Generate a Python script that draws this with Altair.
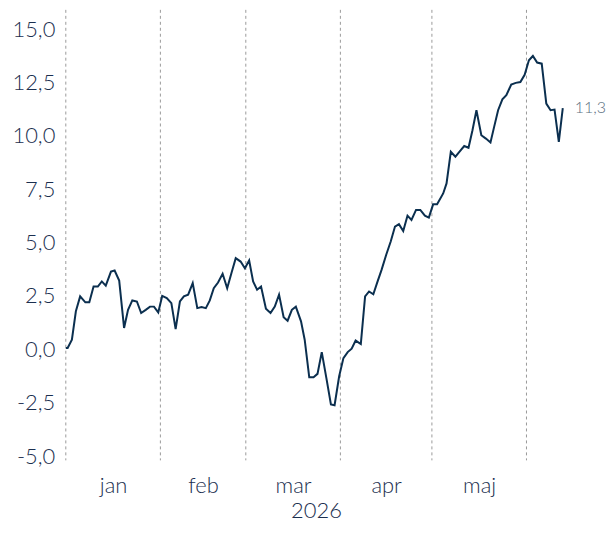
import altair as alt
import pandas as pd

# days since 1 Jan 2026 and index values
day = [0.0, 0.6, 2.0, 3.3, 4.7, 6.4, 7.7, 9.1, 10.5, 11.8, 13.1, 14.8, 16.0, 17.5, 19.1, 20.4, 21.8, 23.3, 24.7, 26.2, 27.6, 28.9, 30.3, 31.6,
       33.1, 34.6, 36.0, 37.4, 38.7, 40.1, 41.6, 43.1, 44.5, 45.9, 47.2, 48.5, 49.9, 51.4, 52.9, 54.3, 55.7, 57.3, 58.7, 60.1, 61.4,
       62.7, 64.0, 65.6, 67.1, 68.5, 69.9, 71.4, 72.7, 74.1, 75.4, 77.1, 78.3, 79.8, 81.2, 82.5, 83.9, 85.4, 86.9, 88.1, 89.6, 91.0, 92.4,
       93.7, 95.0, 96.7, 98.1, 99.4, 100.8, 102.2, 103.5, 105.0, 106.5, 107.9, 109.2, 110.6, 112.0, 113.3, 114.8, 116.2, 117.7, 119.0, 120.4, 121.7,
       123.7, 124.8, 126.2, 127.7, 129.2, 130.6, 132.0, 133.3, 134.6, 136.2, 137.7, 139.2, 140.4, 141.7, 143.1, 144.4, 146.0, 147.5, 149.0,
       150.4, 151.8, 153.1, 154.5, 156.0, 157.5, 158.9, 160.2, 161.6, 162.9]
value = [0.06, 0.06, 0.45, 1.78, 2.48, 2.2, 2.2, 2.94, 2.94, 3.18, 2.98, 3.64, 3.69, 3.22, 1.0, 1.85, 2.29, 2.24, 1.7, 1.85, 2.0, 2.0, 1.73, 2.5,
         2.4, 2.16, 0.95, 2.24, 2.48, 2.56, 3.1, 1.93, 1.98, 1.93, 2.29, 2.86, 3.13, 3.54, 2.86, 3.57, 4.27, 4.11, 3.8, 4.16, 3.18,
         2.79, 2.94, 1.9, 1.7, 2.0, 2.56, 1.5, 1.34, 1.85, 2.0, 1.31, 0.45, -1.31, -1.31, -1.15, -0.13, -1.34, -2.58, -2.62, -1.26, -0.41, -0.13,
         0.03, 0.41, 0.25, 2.48, 2.71, 2.58, 3.18, 3.72, 4.42, 5.05, 5.75, 5.86, 5.54, 6.26, 6.06, 6.53, 6.53, 6.26, 6.17, 6.79, 6.79,
         7.3, 7.77, 9.25, 9.02, 9.28, 9.52, 9.44, 10.26, 11.2, 10.03, 9.87, 9.69, 10.42, 11.2, 11.71, 11.9, 12.4, 12.48, 12.52,
         12.86, 13.54, 13.74, 13.43, 13.38, 11.51, 11.2, 11.23, 9.72, 11.3]

month_starts = ["2026-01-01", "2026-02-01", "2026-03-01", "2026-04-01", "2026-05-01", "2026-06-01"]
month_mids = ["2026-01-16T12:00:00", "2026-02-15T00:00:00", "2026-03-16T12:00:00",
              "2026-04-16T00:00:00", "2026-05-16T12:00:00"]
month_names = ["jan", "feb", "mar", "apr", "maj", "jun", "jul", "aug", "sep", "okt", "nov", "dec"]
y_ticks = [-5, -2.5, 0, 2.5, 5, 7.5, 10, 12.5, 15]
x_domain = ["2026-01-01T00:00:00", "2026-06-14T00:00:00"]
y_domain = [-5.2, 15.9]
year_title = "2026"
end_label = "11,3"

start = pd.Timestamp("2026-01-01")
df = pd.DataFrame({"date": start + pd.to_timedelta(day, unit="D"), "value": value})
df["date"] = df["date"].dt.strftime("%Y-%m-%dT%H:%M:%S")
rules_df = pd.DataFrame({"date": month_starts})
last_df = df.tail(1).assign(label=end_label)

FONT = "Lato"
TEXT = "#1b2f4f"
names_js = "[" + ",".join(f"'{m}'" for m in month_names) + "]"

x_enc = alt.X(
    "date:T",
    scale=alt.Scale(domain=x_domain, nice=False),
    axis=alt.Axis(
        values=month_mids,
        labelExpr=f"{names_js}[month(datum.value)]",
        ticks=False, domain=False, grid=False,
        labelFontSize=22, labelFontWeight=300, labelPadding=15, labelColor=TEXT, labelFont=FONT,
        title=year_title, titleFontSize=22, titleFontWeight=300, titleColor=TEXT,
        titleFont=FONT, titlePadding=4,
    ),
)
y_enc = alt.Y(
    "value:Q",
    scale=alt.Scale(domain=y_domain, nice=False, zero=False),
    axis=alt.Axis(
        values=y_ticks,
        labelExpr="(datum.value < 0 ? '-' : '') + replace(format(abs(datum.value), '.1f'), '.', ',')",
        ticks=False, domain=False, grid=False,
        labelFontSize=22, labelFontWeight=300, labelPadding=11, labelColor=TEXT, labelFont=FONT, title=None,
    ),
)

rules = alt.Chart(rules_df).mark_rule(strokeDash=[3, 3], color="#9a9a9a", strokeWidth=1).encode(x=x_enc)
line = alt.Chart(df).mark_line(color="#0b2f4f", strokeWidth=2).encode(x=x_enc, y=y_enc)
label = alt.Chart(last_df).mark_text(
    align="left", baseline="middle", dx=12, fontSize=16, fontWeight=300, color="#5b6f82", font=FONT
).encode(x=x_enc, y=y_enc, text="label:N")

chart = (
    alt.layer(rules, line, label)
    .properties(width=502, height=452, padding={"left": 3, "top": 0, "right": 0, "bottom": 0})
    .configure_view(stroke=None)
)
chart.save("out.html", embed_options={"renderer": "svg", "actions": False})
